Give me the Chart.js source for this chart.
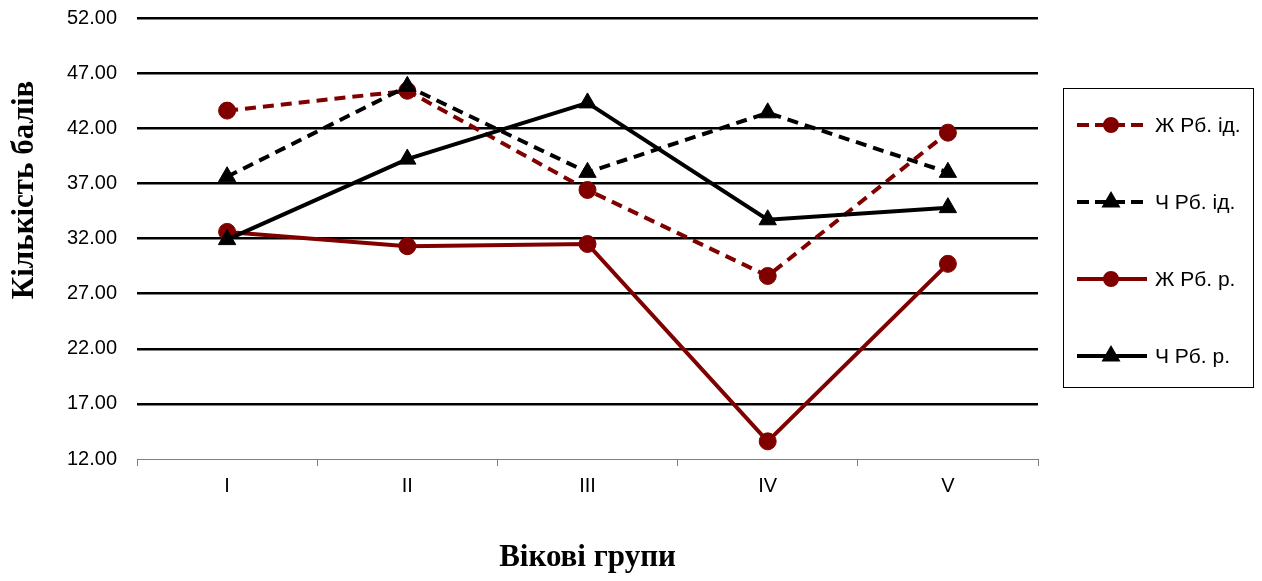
<!DOCTYPE html>
<html>
<head>
<meta charset="utf-8">
<script src="https://cdn.jsdelivr.net/npm/chart.js@4.4.1/dist/chart.umd.min.js"></script>
<style>
    html, body { margin: 0; padding: 0; background: #fff; }
    #wrap { width: 1262px; height: 581px; position: relative; }
</style>
</head>
<body>
<div id="wrap"><canvas id="chart"></canvas></div>
<script>
// вікові групи
const groups = ["I", "II", "III", "IV", "V"];
const seriesNames = ["Ж Рб. ід.", "Ч Рб. ід.", "Ж Рб. р.", "Ч Рб. р."];
const zhRbId = [43.6, 45.4, 36.4, 28.6, 41.6];
const chRbId = [37.6, 45.8, 38.0, 43.4, 38.0];
const zhRbR = [32.6, 31.3, 31.5, 13.6, 29.7];
const chRbR = [31.9, 39.2, 44.3, 33.7, 34.8];
const yMin = 12;
const yMax = 52;
const yStep = 5;

const RED = "#800000";
const BLACK = "#000000";

function line(label, data, color, dashed, marker, order) {
    return {
        label: label,
        data: data,
        borderColor: color,
        backgroundColor: color,
        borderWidth: 4,
        borderDash: dashed ? [11, 7] : [],
        pointStyle: marker,
        pointRadius: marker === "triangle" ? 10 : 8.5,
        pointBorderWidth: 1,
        pointBorderColor: color,
        pointBackgroundColor: color,
        tension: 0,
        order: order
    };
}

// легенда в рамці справа + підпис осі Y
const sideStuff = {
    id: "sideStuff",
    afterDraw(chart) {
        const ctx = chart.ctx;
        ctx.save();

        // y title
        ctx.translate(25, 190);
        ctx.rotate(-Math.PI / 2);
        ctx.font = "bold 31px 'Liberation Serif'";
        ctx.fillStyle = "#000";
        ctx.textAlign = "center";
        ctx.textBaseline = "middle";
        ctx.fillText("Кількість балів", 0, 0);
        ctx.setTransform(1, 0, 0, 1, 0, 0);

        const L = 1063, T = 88, W = 190, H = 299;
        ctx.strokeStyle = "#000";
        ctx.lineWidth = 1;
        ctx.strokeRect(L + 0.5, T + 0.5, W, H);

        chart.data.datasets.forEach((ds, i) => {
            const y = T + 37 + i * 77;
            ctx.strokeStyle = ds.borderColor;
            ctx.lineWidth = 4;
            ctx.setLineDash(ds.borderDash.length ? [12, 6] : []);
            ctx.beginPath();
            ctx.moveTo(1077, y);
            ctx.lineTo(1147, y);
            ctx.stroke();
            ctx.setLineDash([]);
            Chart.helpers.drawPoint(ctx, {
                pointStyle: ds.pointStyle,
                radius: ds.pointStyle === "triangle" ? 7 : 6,
                borderWidth: 1,
                rotation: 0
            }, 1111, y);
            ctx.fillStyle = ds.borderColor;
            ctx.fill();
            ctx.fillStyle = "#000";
            ctx.font = "21px 'Liberation Sans'";
            ctx.textAlign = "left";
            ctx.textBaseline = "middle";
            ctx.fillText(ds.label, 1155, y + 1);
        });
        ctx.restore();
    }
};

new Chart(document.getElementById("chart"), {
    type: "line",
    data: {
        labels: groups,
        datasets: [
            line(seriesNames[0], zhRbId, RED, true, "circle", 4),
            line(seriesNames[1], chRbId, BLACK, true, "triangle", 3),
            line(seriesNames[2], zhRbR, RED, false, "circle", 2),
            line(seriesNames[3], chRbR, BLACK, false, "triangle", 1)
        ]
    },
    options: {
        responsive: true,
        maintainAspectRatio: false,
        animation: false,
        layout: {
            padding: { left: 0, right: 224, top: 18, bottom: 0 }
        },
        plugins: {
            legend: { display: false },
            tooltip: { enabled: false }
        },
        scales: {
            x: {
                offset: true,
                afterFit: (s) => { s.height = 122; },
                grid: {
                    offset: true,
                    drawOnChartArea: false,
                    drawTicks: true,
                    tickLength: 7,
                    color: "#808080",
                    lineWidth: 1
                },
                border: { display: true, color: "#808080", width: 1 },
                ticks: {
                    color: "#000",
                    padding: 8,
                    font: { family: "Liberation Sans", size: 20 }
                },
                title: {
                    display: true,
                    text: "Вікові групи",
                    color: "#000",
                    font: { family: "Liberation Serif", size: 31, weight: "bold" },
                    padding: { top: 0, bottom: 4 }
                }
            },
            y: {
                min: yMin,
                max: yMax,
                afterFit: (s) => {
                    s.width = 137;
                    s.paddingTop = 0;
                    s.paddingBottom = 0;
                },
                ticks: {
                    stepSize: yStep,
                    color: "#000",
                    padding: 20,
                    font: { family: "Liberation Sans", size: 20 },
                    callback: (v) => Number(v).toFixed(2)
                },
                grid: {
                    drawTicks: false,
                    color: (c) => c.tick && c.tick.value === yMin ? "rgba(0,0,0,0)" : "#000",
                    lineWidth: 2.5
                },
                border: { display: false }
            }
        }
    },
    plugins: [sideStuff]
});
</script>
</body>
</html>
